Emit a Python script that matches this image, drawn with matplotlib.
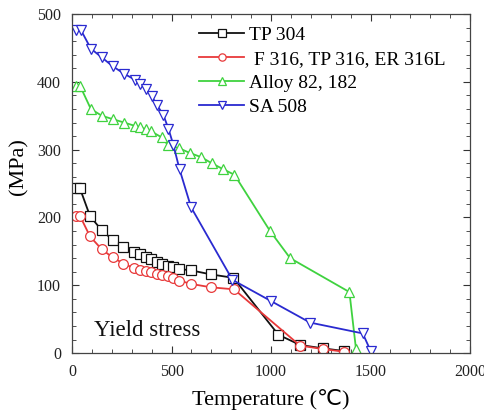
import matplotlib
matplotlib.use("Agg")
import matplotlib.pyplot as plt
from matplotlib.ticker import MultipleLocator

plt.rcParams['font.family'] = ['Liberation Serif', 'DejaVu Sans']
plt.rcParams['mathtext.fontset'] = 'stix'

tp304_T = [22, 38, 90, 149, 204, 258, 313, 342, 370, 397, 426, 454, 481, 509, 538, 598, 698, 811, 1037, 1146, 1260, 1368]
tp304_S = [244, 244, 202, 181, 167, 156, 149, 146, 142, 138, 135, 132, 129, 127, 124, 122, 116, 111, 27, 12, 7, 3]

f316_T = [22, 40, 90, 149, 204, 258, 313, 342, 370, 397, 426, 454, 481, 509, 538, 598, 698, 814, 1146, 1260, 1368]
f316_S = [202, 202, 172, 153, 141, 132, 125, 123, 121, 119, 117, 115, 113, 111, 107, 102, 97, 94, 11, 6, 2]

a82_T = [22, 40, 94, 149, 204, 261, 316, 342, 370, 397, 451, 481, 538, 593, 648, 702, 760, 816, 995, 1096, 1394, 1427]
a82_S = [394, 394, 360, 350, 345, 340, 335, 333, 330, 327, 318, 307, 302, 295, 289, 280, 271, 263, 180, 140, 90, 6]

sa508_T = [22, 43, 94, 149, 204, 261, 316, 342, 370, 400, 426, 459, 484, 509, 540, 598, 806, 998, 1196, 1461, 1501]
sa508_S = [477, 477, 449, 436, 423, 412, 403, 397, 389, 379, 366, 351, 331, 307, 271, 215, 108, 77, 45, 29, 3]

labels = ['TP 304', ' F 316, TP 316, ER 316L', 'Alloy 82, 182', 'SA 508']
colors = ['#111111', '#e8393a', '#3fd23f', '#2a2ad0']
markers = ['s', 'o', '^', 'v']

fig = plt.figure(figsize=(4.84, 4.12), dpi=100)
ax = fig.add_axes([0.149, 0.143, 0.822, 0.823])

series = [(tp304_T, tp304_S), (f316_T, f316_S), (a82_T, a82_S), (sa508_T, sa508_S)]
for (T, S), lab, c, m in zip(series, labels, colors, markers):
    ax.plot(T, S, color=c, lw=1.3, marker=m, ms=7, mfc='white', mec=c, mew=0.9, label=lab)

ax.set_xlim(0, 2000)
ax.set_ylim(0, 500)
ax.xaxis.set_major_locator(MultipleLocator(500))
ax.xaxis.set_minor_locator(MultipleLocator(100))
ax.yaxis.set_major_locator(MultipleLocator(100))
ax.yaxis.set_minor_locator(MultipleLocator(20))
ax.tick_params(which='both', direction='in', top=True, right=True, labelsize=11.5, colors='#333333', labelcolor='#222222')
ax.tick_params(which='major', length=5, pad=8)
ax.tick_params(which='minor', length=3)
for sp in ax.spines.values():
    sp.set_color('#444444')
    sp.set_linewidth(0.9)

ax.set_xlabel('Temperature (\u2103)', fontsize=16, labelpad=6)
ax.set_ylabel('(MPa)', fontsize=16)
ax.yaxis.set_label_coords(-0.11, 0.55)

ax.text(0.055, 0.05, 'Yield stress', transform=ax.transAxes, fontsize=16.5, color='#111111')

leg = ax.legend(loc='upper left', bbox_to_anchor=(0.32, 0.963), frameon=False, fontsize=14,
                handlelength=2.3, handletextpad=0.25, labelspacing=0.32, borderpad=0, borderaxespad=0,
                markerscale=0.75)

fig.savefig('out.png', dpi=100)
